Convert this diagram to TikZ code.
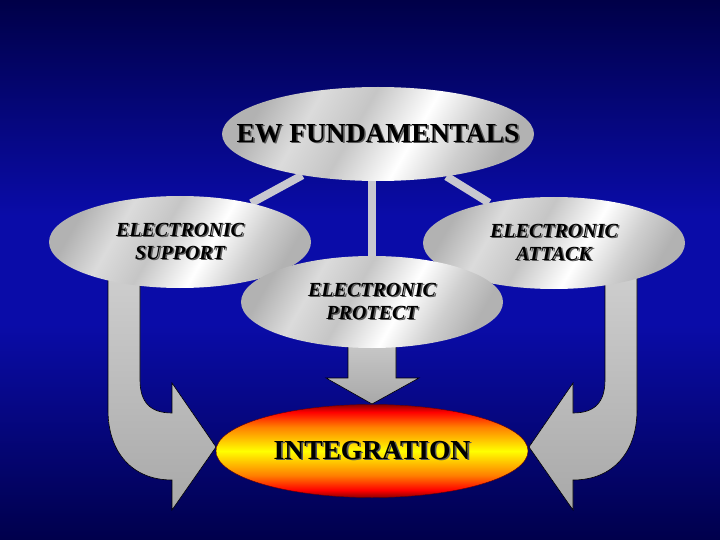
\documentclass[tikz,border=0pt]{standalone}
\usepackage{fontspec}
\setmainfont{Liberation Serif}
\usetikzlibrary{shapes.geometric}
\pgfdeclarelayer{bg}\pgfdeclarelayer{mid}\pgfsetlayers{bg,mid,main}
\definecolor{navytop}{HTML}{000048}
\definecolor{navymid}{HTML}{0A0CA8}
\definecolor{navybot}{HTML}{00004C}
\definecolor{shadowgray}{HTML}{5A5A5A}
\definecolor{connc}{HTML}{C8C8D0}
\pgfdeclareverticalshading{bgblue}{100bp}{color(0bp)=(navybot); color(25bp)=(navybot); color(45bp)=(navymid); color(55bp)=(navymid); color(75bp)=(navytop); color(100bp)=(navytop)}
\pgfdeclarehorizontalshading{metal}{100bp}{color(0bp)=(gray!60); color(25bp)=(gray!60); color(35bp)=(gray!28); color(45bp)=(gray!45); color(57bp)=(white); color(67bp)=(gray!38); color(75bp)=(gray!60); color(100bp)=(gray!60)}
\pgfdeclareverticalshading{fire}{100bp}{color(0bp)=(red!55!black); color(25bp)=(red!55!black); color(29bp)=(red); color(37bp)=(orange); color(50bp)=(yellow); color(63bp)=(orange); color(71bp)=(red); color(75bp)=(red!55!black); color(100bp)=(red!55!black)}
\newcommand\shd[1]{\makebox[0pt][l]{\kern1.6pt\raisebox{-1.6pt}{\color{shadowgray}#1}}#1}
\begin{document}
\begin{tikzpicture}[x=1pt,y=-1pt,
  metalell/.style={ellipse, shading=metal, shading angle=-30, inner sep=0pt,
    minimum width=262, minimum height=92},
  smalltext/.style={align=center, inner sep=0pt, font=\fontsize{20}{23}\selectfont\bfseries\itshape},
  bigtext/.style={inner sep=0pt, font=\fontsize{27.5}{30}\selectfont\bfseries},
  conn/.style={draw=connc, line width=8},
  arrowfill/.style={top color=gray!38, bottom color=gray!68, draw=black, line width=0.6}]
\useasboundingbox (0,0) rectangle (720,540);
\begin{pgfonlayer}{bg}
\shade[shading=bgblue] (0,0) rectangle (720,540);
\end{pgfonlayer}
% ellipses
\node[metalell, minimum width=312, minimum height=94] (ew) at (378,134) {};
\node[metalell] (es) at (180,242) {};
\node[metalell] (ea) at (554,243) {};
\node[metalell] (ep) at (372,302) {};
\node[ellipse, shading=fire, inner sep=0pt, minimum width=312, minimum height=93, draw=red!40!black, line width=0.4] (int) at (372,451) {};
% texts
\node[bigtext] (ewt) at (ew) {\shd{EW FUNDAMENTALS}};
\node[smalltext] (est) at (es) {\shd{ELECTRONIC}\\\shd{SUPPORT}};
\node[smalltext] (eat) at (ea) {\shd{ELECTRONIC}\\\shd{ATTACK}};
\node[smalltext] (ept) at (ep) {\shd{ELECTRONIC}\\\shd{PROTECT}};
\node[bigtext] (intt) at (int) {\shd{INTEGRATION}};
\begin{pgfonlayer}{mid}
\draw[conn] (ew) -- (es);
\draw[conn] (ew) -- (ea);
\draw[conn] (ep) -- (ep |- ew);
% down arrow
\draw[arrowfill] (348,330) -- (348,378) -- (326,378) -- (372,404) -- (419,378) -- (396,378) -- (396,330) -- cycle;
% left curved arrow
\draw[arrowfill] (108,270) -- (108,410) .. controls (108,452) and (132,480) .. (172,480)
  -- (172,510) -- (216,447) -- (172,383) -- (172,413) .. controls (150,413) and (140,402) .. (140,380) -- (140,270) -- cycle;
% right curved arrow
\draw[arrowfill] (637,270) -- (637,410) .. controls (637,452) and (613,480) .. (573,480)
  -- (573,510) -- (529,447) -- (573,383) -- (573,413) .. controls (595,413) and (605,402) .. (605,380) -- (605,270) -- cycle;
\end{pgfonlayer}
\end{tikzpicture}
\end{document}
